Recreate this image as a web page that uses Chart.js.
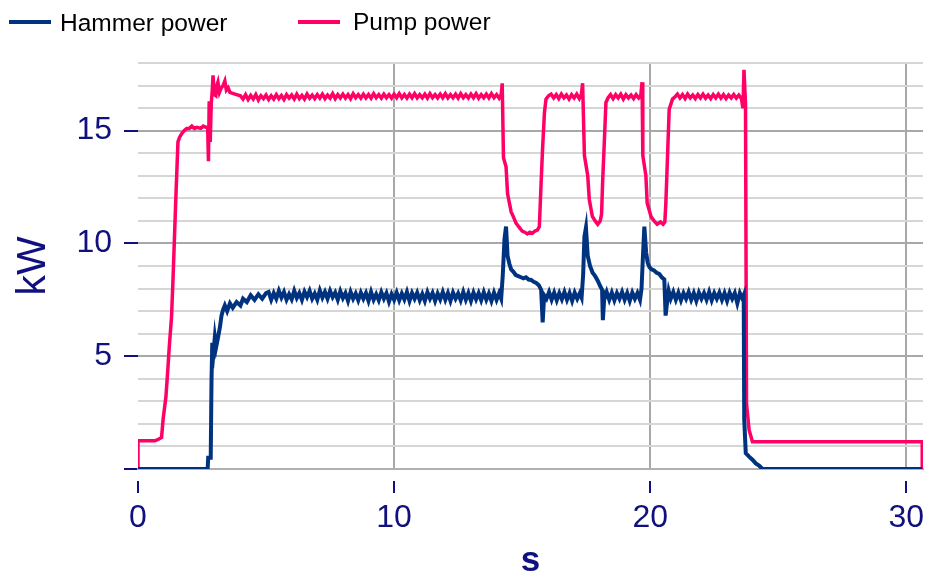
<!DOCTYPE html>
<html>
<head>
<meta charset="utf-8">
<script src="https://cdn.jsdelivr.net/npm/chart.js@4.4.1/dist/chart.umd.min.js"></script>
<style>
  html, body { margin: 0; padding: 0; background: #fff; }
  #wrap { position: relative; width: 925px; height: 579px; }
  #legend { position: absolute; left: 0; top: 0; font-family: 'Liberation Sans', Arial, sans-serif; font-size: 24.5px; line-height: 24.5px; color: #000; }
  #legend .line { position: absolute; height: 4px; width: 42px; }
  #legend .txt { position: absolute; white-space: nowrap; }
</style>
</head>
<body>
<div id="wrap">
  <canvas id="powerChart" width="925" height="579"></canvas>
  <div id="legend">
    <span class="line" style="left:9px; top:20px; background:#00337f"></span>
    <span class="txt" style="left:60px; top:11px">Hammer power</span>
    <span class="line" style="left:298px; top:20px; background:#ff0066"></span>
    <span class="txt" style="left:353px; top:10px">Pump power</span>
  </div>
</div>
<script>
// time [s], power [kW]
const hammerPower = [
  [0, 0], [2.72, 0], [2.74, 0.5], [2.84, 0.5], [2.87, 3.9], [2.9, 5.6], [2.95, 5.2], [3.0, 5.85], [3.05, 5.4], [3.12, 5.8],
  [3.2, 6.3], [3.26, 6.8], [3.32, 7.05], [3.39, 7.25], [3.48, 7.0], [3.59, 7.35], [3.7, 7.15], [3.85, 7.4], [4.0, 7.25], [4.1, 7.55],
  [4.25, 7.4], [4.4, 7.7], [4.55, 7.5], [4.7, 7.75], [4.85, 7.55], [5.0, 7.8],
  [5.1, 7.85], [5.2, 7.5], [5.3, 7.8], [5.4, 7.55], [5.5, 7.9], [5.6, 7.6], [5.7, 7.85], [5.8, 7.5], [5.9, 7.75], [6.0, 7.52],
  [6.1, 7.9], [6.2, 7.58], [6.3, 7.8], [6.4, 7.5], [6.5, 7.86], [6.6, 7.62], [6.7, 7.9], [6.8, 7.55], [6.9, 7.78], [7.0, 7.5],
  [7.1, 7.92], [7.2, 7.6], [7.3, 7.85], [7.4, 7.55], [7.5, 7.9], [7.6, 7.62], [7.7, 7.82], [7.8, 7.5], [7.9, 7.88], [8.0, 7.58],
  [8.1, 7.8], [8.2, 7.45], [8.3, 7.85], [8.4, 7.55], [8.5, 7.78], [8.6, 7.48], [8.7, 7.82], [8.8, 7.55], [8.9, 7.8], [9.0, 7.45],
  [9.1, 7.85], [9.2, 7.5], [9.3, 7.75], [9.4, 7.48], [9.5, 7.84], [9.6, 7.55], [9.7, 7.8], [9.8, 7.42], [9.9, 7.75], [10.0, 7.5],
  [10.1, 7.82], [10.2, 7.48], [10.3, 7.78], [10.4, 7.52], [10.5, 7.85], [10.6, 7.45], [10.7, 7.8], [10.8, 7.55], [10.9, 7.82], [11.0, 7.48],
  [11.1, 7.76], [11.2, 7.45], [11.3, 7.84], [11.4, 7.55], [11.5, 7.8], [11.6, 7.45], [11.7, 7.78], [11.8, 7.52], [11.9, 7.85], [12.0, 7.5],
  [12.1, 7.8], [12.2, 7.45], [12.3, 7.82], [12.4, 7.55], [12.5, 7.78], [12.6, 7.48], [12.7, 7.85], [12.8, 7.5], [12.9, 7.8], [13.0, 7.45],
  [13.1, 7.82], [13.2, 7.52], [13.3, 7.8], [13.4, 7.48], [13.5, 7.84], [13.6, 7.5], [13.7, 7.78], [13.8, 7.45], [13.9, 7.82], [14.0, 7.5],
  [14.1, 7.8], [14.18, 7.55],
  [14.24, 8.55], [14.31, 10.2], [14.37, 10.75], [14.43, 9.45], [14.5, 9.1], [14.57, 8.85], [14.65, 8.75], [14.75, 8.6], [14.85, 8.55], [14.95, 8.5],
  [15.05, 8.45], [15.15, 8.5], [15.25, 8.4], [15.35, 8.38], [15.45, 8.3], [15.55, 8.25], [15.65, 8.15], [15.74, 7.95], [15.8, 6.5], [15.86, 7.7],
  [15.95, 7.55], [16.05, 7.85], [16.15, 7.5], [16.25, 7.82], [16.35, 7.48], [16.45, 7.8], [16.55, 7.52], [16.65, 7.85], [16.75, 7.5], [16.85, 7.8],
  [16.95, 7.45], [17.05, 7.82], [17.15, 7.55], [17.25, 7.8], [17.32, 7.6],
  [17.38, 8.6], [17.43, 10.3], [17.49, 10.7], [17.56, 9.45], [17.65, 9.0], [17.75, 8.7], [17.85, 8.55], [17.95, 8.35], [18.05, 8.1], [18.12, 7.95],
  [18.15, 6.6], [18.2, 7.5], [18.3, 7.85], [18.4, 7.5], [18.5, 7.82], [18.6, 7.48], [18.7, 7.8], [18.8, 7.55], [18.9, 7.85], [19.0, 7.5],
  [19.1, 7.8], [19.2, 7.45], [19.3, 7.82], [19.4, 7.55], [19.5, 7.8], [19.6, 7.5],
  [19.66, 8.0], [19.71, 9.3], [19.77, 10.75], [19.84, 9.6], [19.9, 9.15], [19.97, 8.95], [20.05, 8.85], [20.15, 8.8], [20.25, 8.7], [20.35, 8.65],
  [20.45, 8.5], [20.55, 8.4], [20.6, 6.8], [20.66, 7.4], [20.72, 7.9],
  [20.8, 7.55], [20.9, 7.85], [21.0, 7.5], [21.1, 7.82], [21.2, 7.48], [21.3, 7.8], [21.4, 7.55], [21.5, 7.85], [21.6, 7.5], [21.7, 7.8],
  [21.8, 7.45], [21.9, 7.82], [22.0, 7.55], [22.1, 7.8], [22.2, 7.5], [22.3, 7.85], [22.4, 7.48], [22.5, 7.8], [22.6, 7.55], [22.7, 7.82],
  [22.8, 7.5], [22.9, 7.8], [23.0, 7.45], [23.1, 7.82], [23.2, 7.55], [23.3, 7.8], [23.4, 7.35], [23.5, 7.8], [23.6, 7.55], [23.65, 7.7],
  [23.67, 2.2], [23.73, 0.7], [23.86, 0.55], [24.0, 0.4], [24.12, 0.25], [24.25, 0.15], [24.38, 0], [30.62, 0]
];

const pumpPower = [
  [0, 0], [0, 1.25], [0.66, 1.25], [0.8, 1.32], [0.92, 1.4], [0.98, 2.2], [1.09, 3.2], [1.17, 4.5], [1.22, 5.4], [1.31, 6.75],
  [1.37, 8.5], [1.48, 12.1], [1.56, 14.5], [1.62, 14.7], [1.7, 14.85], [1.8, 15.0], [1.9, 15.1], [2.0, 15.1], [2.1, 15.2], [2.2, 15.1],
  [2.3, 15.15], [2.45, 15.1], [2.55, 15.2], [2.65, 15.15], [2.72, 15.15], [2.75, 13.65], [2.78, 16.3], [2.82, 14.5], [2.86, 16.2], [2.9, 16.8],
  [2.93, 17.45], [2.98, 16.6], [3.04, 16.55], [3.08, 17.0], [3.12, 17.15], [3.18, 16.7], [3.25, 16.9], [3.32, 17.0], [3.39, 17.2], [3.45, 16.8],
  [3.52, 16.9], [3.59, 16.7], [3.7, 16.65], [3.85, 16.6],
  [4.0, 16.55], [4.1, 16.4], [4.2, 16.6], [4.3, 16.38], [4.4, 16.56], [4.5, 16.4], [4.6, 16.6], [4.7, 16.36], [4.8, 16.55], [4.9, 16.42],
  [5.0, 16.58], [5.1, 16.38], [5.2, 16.55], [5.3, 16.4], [5.4, 16.6], [5.5, 16.42], [5.6, 16.56], [5.7, 16.38], [5.8, 16.6], [5.9, 16.44],
  [6.0, 16.58], [6.1, 16.4], [6.2, 16.62], [6.3, 16.42], [6.4, 16.56], [6.5, 16.4], [6.6, 16.62], [6.7, 16.44], [6.8, 16.58], [6.9, 16.42],
  [7.0, 16.6], [7.1, 16.44], [7.2, 16.62], [7.3, 16.42], [7.4, 16.58], [7.5, 16.44], [7.6, 16.64], [7.7, 16.42], [7.8, 16.6], [7.9, 16.45],
  [8.0, 16.62], [8.1, 16.44], [8.2, 16.6], [8.3, 16.42], [8.4, 16.64], [8.5, 16.46], [8.6, 16.6], [8.7, 16.44], [8.8, 16.62], [8.9, 16.45],
  [9.0, 16.6], [9.1, 16.44], [9.2, 16.64], [9.3, 16.46], [9.4, 16.6], [9.5, 16.44], [9.6, 16.62], [9.7, 16.46], [9.8, 16.6], [9.9, 16.44],
  [10.0, 16.62], [10.1, 16.46], [10.2, 16.64], [10.3, 16.45], [10.4, 16.6], [10.5, 16.44], [10.6, 16.62], [10.7, 16.46], [10.8, 16.64], [10.9, 16.45],
  [11.0, 16.6], [11.1, 16.46], [11.2, 16.62], [11.3, 16.44], [11.4, 16.64], [11.5, 16.46], [11.6, 16.6], [11.7, 16.45], [11.8, 16.62], [11.9, 16.46],
  [12.0, 16.64], [12.1, 16.45], [12.2, 16.6], [12.3, 16.46], [12.4, 16.62], [12.5, 16.44], [12.6, 16.64], [12.7, 16.46], [12.8, 16.6], [12.9, 16.45],
  [13.0, 16.62], [13.1, 16.46], [13.2, 16.64], [13.3, 16.44], [13.4, 16.6], [13.5, 16.46], [13.6, 16.62], [13.7, 16.45], [13.8, 16.64], [13.9, 16.46],
  [14.0, 16.6], [14.1, 16.44], [14.18, 16.6],
  [14.22, 17.1], [14.27, 13.8], [14.37, 13.4], [14.43, 12.2], [14.5, 11.8], [14.57, 11.4], [14.65, 11.2], [14.76, 10.9], [14.88, 10.72], [15.0, 10.55],
  [15.1, 10.5], [15.2, 10.42], [15.3, 10.5], [15.4, 10.45], [15.5, 10.55], [15.6, 10.6], [15.67, 10.75], [15.74, 12.7], [15.8, 14.3], [15.87, 15.8],
  [15.93, 16.4], [16.03, 16.55], [16.13, 16.62], [16.23, 16.45], [16.33, 16.6], [16.43, 16.42], [16.53, 16.62], [16.63, 16.45], [16.73, 16.58], [16.83, 16.4],
  [16.93, 16.6], [17.03, 16.45], [17.13, 16.62], [17.23, 16.42], [17.31, 16.6],
  [17.36, 17.1], [17.43, 13.9], [17.56, 13.0], [17.62, 11.95], [17.74, 11.2], [17.85, 11.0], [17.95, 10.85], [18.05, 11.0], [18.1, 11.3], [18.14, 12.7],
  [18.2, 14.3], [18.27, 16.25], [18.35, 16.45], [18.45, 16.6], [18.55, 16.42], [18.65, 16.6], [18.75, 16.45], [18.85, 16.62], [18.95, 16.4], [19.05, 16.6],
  [19.15, 16.45], [19.25, 16.58], [19.35, 16.42], [19.45, 16.6], [19.55, 16.45], [19.63, 16.55],
  [19.68, 17.15], [19.71, 13.9], [19.83, 13.0], [19.88, 11.8], [20.03, 11.2], [20.15, 11.0], [20.27, 10.85], [20.4, 10.95], [20.5, 10.85], [20.57, 10.95],
  [20.61, 11.8], [20.67, 13.7], [20.74, 15.95], [20.87, 16.4], [20.97, 16.5], [21.06, 16.62],
  [21.16, 16.45], [21.26, 16.6], [21.36, 16.42], [21.46, 16.62], [21.56, 16.45], [21.66, 16.58], [21.76, 16.42], [21.86, 16.6], [21.96, 16.45], [22.06, 16.62],
  [22.16, 16.44], [22.26, 16.58], [22.36, 16.42], [22.46, 16.6], [22.56, 16.45], [22.66, 16.62], [22.76, 16.44], [22.86, 16.6], [22.96, 16.42], [23.06, 16.58],
  [23.16, 16.45], [23.26, 16.6], [23.36, 16.44], [23.46, 16.58], [23.56, 16.42], [23.62, 16.0],
  [23.66, 17.7], [23.72, 16.2], [23.76, 2.9], [23.86, 1.73], [23.99, 1.21], [30.62, 1.21], [30.62, 0]
];

const xTickStep = 10;
const yTickStep = 1;
const yLabelStep = 5;

const navy = '#00337f';
const pink = '#ff0066';
const axisText = '#10107f';
const fontFamily = "'Liberation Sans', Arial, sans-serif";

const toPoints = rows => rows.map(r => ({ x: r[0], y: r[1] }));

new Chart(document.getElementById('powerChart'), {
    type: 'line',
    data: {
        datasets: [
            {
                label: 'Hammer power',
                data: toPoints(hammerPower),
                borderColor: navy,
                backgroundColor: navy,
                borderWidth: 4,
                pointRadius: 0,
                tension: 0
            },
            {
                label: 'Pump power',
                data: toPoints(pumpPower),
                borderColor: pink,
                backgroundColor: pink,
                borderWidth: 3.5,
                pointRadius: 0,
                tension: 0
            }
        ]
    },
    options: {
        responsive: false,
        animation: false,
        devicePixelRatio: 1,
        layout: { padding: { left: 0, right: 2, top: 63, bottom: 0 } },
        plugins: {
            legend: { display: false },
            tooltip: { enabled: false }
        },
        scales: {
            x: {
                type: 'linear',
                min: 0,
                max: 30.65,
                afterFit: scale => {
                    scale.height = 110;
                    scale.paddingLeft = 0;
                    scale.paddingRight = 0;
                },
                border: { display: true, color: '#b0b0b0', width: 2 },
                grid: {
                    color: c => (c.tick && c.tick.value === 0) ? 'rgba(0,0,0,0)' : '#a8a8a8',
                    lineWidth: 2,
                    tickLength: 24,
                    tickColor: axisText,
                    tickWidth: 2,
                    tickBorderDash: [13, 11],
                    tickBorderDashOffset: 13
                },
                ticks: {
                    stepSize: xTickStep,
                    includeBounds: false,
                    maxRotation: 0,
                    color: axisText,
                    padding: 6,
                    font: { family: fontFamily, size: 32 }
                },
                title: {
                    display: true,
                    text: 's',
                    color: axisText,
                    padding: { top: -4, bottom: 0 },
                    font: { family: fontFamily, size: 35, weight: 'bold', lineHeight: 1 }
                }
            },
            y: {
                min: 0,
                max: 18,
                afterFit: scale => { scale.width = 138; },
                border: { display: false },
                grid: {
                    color: c => (c.tick.value % yLabelStep === 0) ? '#a8a8a8' : '#d6d6d6',
                    lineWidth: 2,
                    tickLength: 14,
                    tickColor: c => (c.tick.value % yLabelStep === 0) ? axisText : 'rgba(0,0,0,0)',
                    tickWidth: 2
                },
                ticks: {
                    stepSize: yTickStep,
                    autoSkip: false,
                    color: axisText,
                    padding: 12,
                    font: { family: fontFamily, size: 32 },
                    callback: v => (v % yLabelStep === 0 && v > 0) ? String(v) : ''
                },
                title: {
                    display: true,
                    text: 'kW',
                    color: axisText,
                    padding: { top: 13, bottom: 0 },
                    font: { family: fontFamily, size: 41, lineHeight: 1 }
                }
            }
        }
    }
});
</script>
</body>
</html>
